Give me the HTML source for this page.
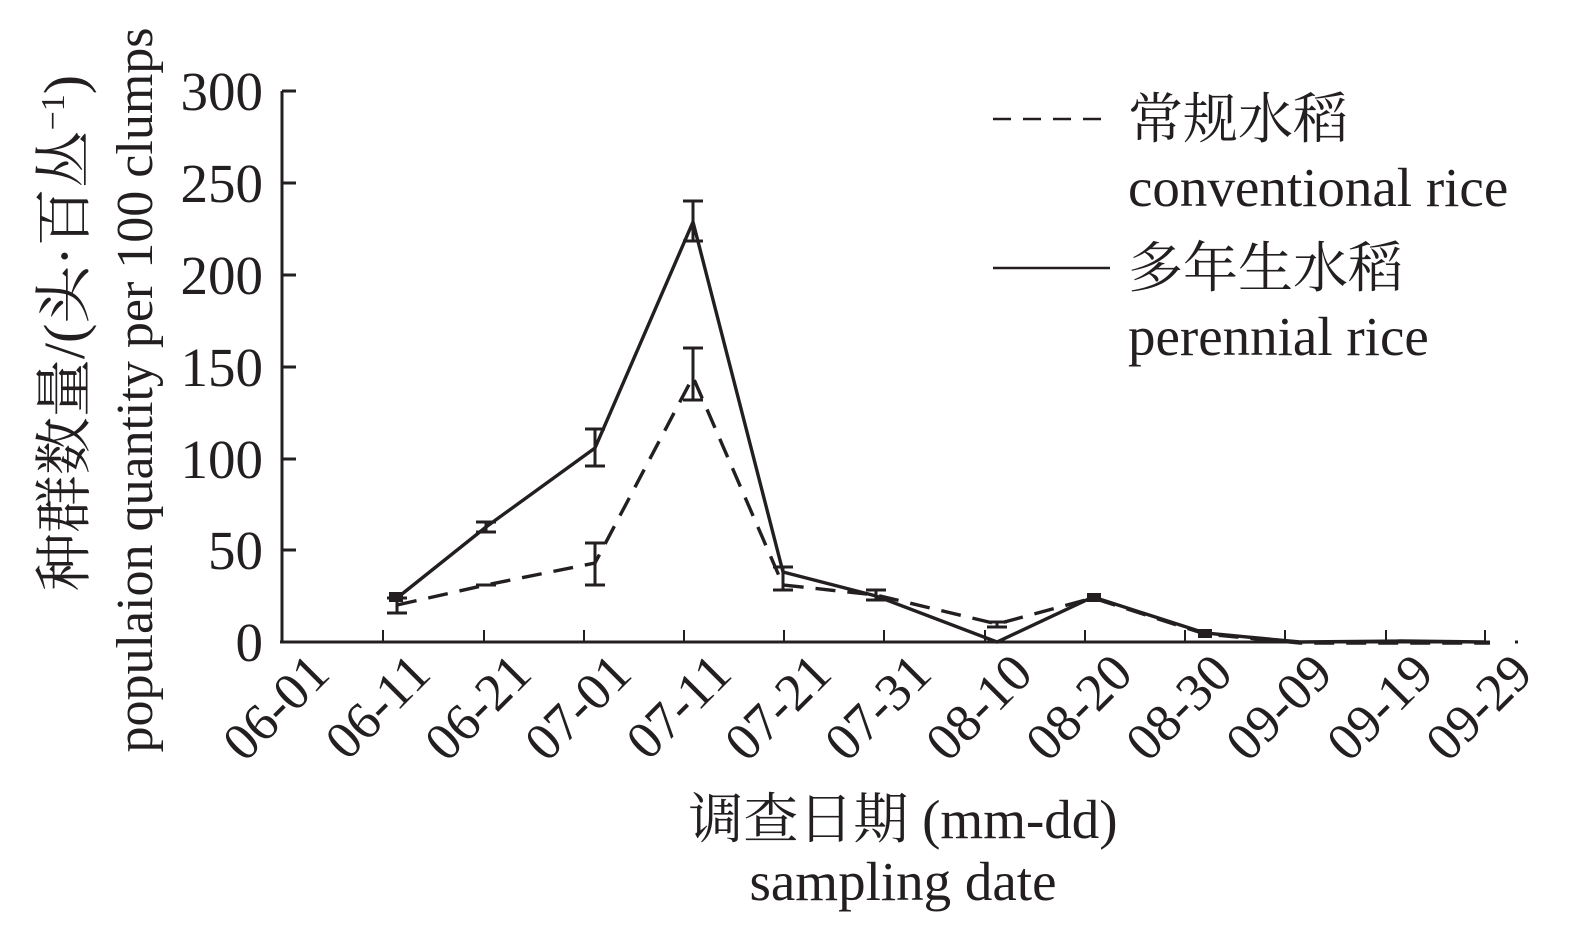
<!DOCTYPE html>
<html><head><meta charset="utf-8"><style>
html,body{margin:0;padding:0;background:#fff;}
svg{display:block;}
text{font-family:"Liberation Serif","Noto Serif CJK SC",serif;fill:#231f20;}
</style></head><body>
<svg width="1575" height="927" viewBox="0 0 1575 927" xmlns="http://www.w3.org/2000/svg">
<g stroke="#231f20" stroke-width="3" fill="none">
<line x1="282" y1="91" x2="282" y2="643"/>
<line x1="280" y1="642" x2="1490" y2="642"/>
<line x1="282" y1="91" x2="296" y2="91"/>
<line x1="282" y1="183" x2="296" y2="183"/>
<line x1="282" y1="275" x2="296" y2="275"/>
<line x1="282" y1="367" x2="296" y2="367"/>
<line x1="282" y1="459" x2="296" y2="459"/>
<line x1="282" y1="550" x2="296" y2="550"/>
<g stroke-width="2">
<line x1="383" y1="630" x2="383" y2="642"/><line x1="484" y1="630" x2="484" y2="642"/>
<line x1="584" y1="630" x2="584" y2="642"/><line x1="684" y1="630" x2="684" y2="642"/>
<line x1="784" y1="630" x2="784" y2="642"/><line x1="884" y1="630" x2="884" y2="642"/>
<line x1="985" y1="630" x2="985" y2="642"/><line x1="1085" y1="630" x2="1085" y2="642"/>
<line x1="1185" y1="630" x2="1185" y2="642"/><line x1="1285" y1="630" x2="1285" y2="642"/>
<line x1="1386" y1="630" x2="1386" y2="642"/><line x1="1485" y1="630" x2="1485" y2="642"/>
</g>
<g stroke-width="3.4">
<polyline points="397,598 486,527 595,448 693,222 783,572 876,596 997,642 1093,597 1205,633 1300,642 1400,641 1485,642"/>
<polyline stroke-dasharray="20,12" points="397,605 486,585 595,563 693,377 783,585 876,595 997,624 1093,598 1205,634 1300,643 1400,643 1490,643"/>
</g>
<path d="M397,592V613M387,613H407M387,598H407
M486,522V532M476,522H496M476,532H496M476,585H496
M595,429V466M585,429H605M585,466H605
M595,543V585M585,543H605M585,585H605
M693,201V241M683,201H703M683,241H703
M693,348V400M683,348H703M683,400H703
M783,567V590M773,567H793M773,590H793
M876,590V600M866,590H886M866,600H886
M997,622V627M987,622H1007M987,627H1007"/>
<line x1="1515" y1="642" x2="1518" y2="642"/>
</g>
<rect x="389" y="592" width="14" height="10" fill="#231f20"/>
<rect x="1087" y="593" width="14" height="9" fill="#231f20"/>
<rect x="1198" y="629" width="14" height="9" fill="#231f20"/>
<g font-size="55" text-anchor="end">
<text x="263" y="110">300</text><text x="263" y="202">250</text><text x="263" y="294">200</text>
<text x="263" y="386">150</text><text x="263" y="478">100</text><text x="263" y="569">50</text>
<text x="263" y="661">0</text>
</g>
<g font-size="53" text-anchor="end">
<text transform="translate(332,676) rotate(-45)">06-01</text>
<text transform="translate(433,676) rotate(-45)">06-11</text>
<text transform="translate(534,676) rotate(-45)">06-21</text>
<text transform="translate(634,676) rotate(-45)">07-01</text>
<text transform="translate(734,676) rotate(-45)">07-11</text>
<text transform="translate(834,676) rotate(-45)">07-21</text>
<text transform="translate(934,676) rotate(-45)">07-31</text>
<text transform="translate(1035,676) rotate(-45)">08-10</text>
<text transform="translate(1135,676) rotate(-45)">08-20</text>
<text transform="translate(1235,676) rotate(-45)">08-30</text>
<text transform="translate(1335,676) rotate(-45)">09-09</text>
<text transform="translate(1436,676) rotate(-45)">09-19</text>
<text transform="translate(1535,676) rotate(-45)">09-29</text>
</g>
<g text-anchor="middle">
<text x="903" y="838" font-size="55">调查日期 (mm-dd)</text>
<text x="903" y="900" font-size="55">sampling date</text>
<text transform="translate(84,333) rotate(-90)" font-size="58">种群数量/(头·百丛<tspan font-size="34" dy="-20">−1</tspan><tspan dy="20">)</tspan></text>
<text transform="translate(152,390) rotate(-90)" font-size="52">populaion quantity per 100 clumps</text>
</g>
<g stroke="#231f20" stroke-width="2.5">
<line x1="993" y1="119" x2="1110" y2="119" stroke-dasharray="18,12"/>
<line x1="993" y1="268" x2="1110" y2="268"/>
</g>
<g font-size="55">
<text x="1128" y="138">常规水稻</text>
<text x="1128" y="206">conventional rice</text>
<text x="1128" y="287">多年生水稻</text>
<text x="1128" y="355">perennial rice</text>
</g>
</svg>
</body></html>
